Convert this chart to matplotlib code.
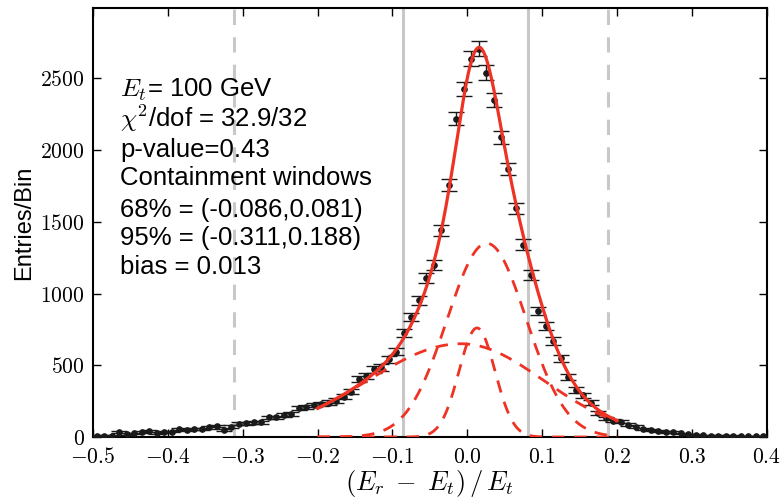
import numpy as np
import matplotlib.pyplot as plt
from matplotlib.ticker import FuncFormatter

plt.rcParams['mathtext.fontset'] = 'cm'
plt.rcParams['font.family'] = ['Liberation Sans', 'DejaVu Sans']

# histogram bin centres (width 0.01) and counts
bin_centers = np.round(np.arange(-0.495, 0.4, 0.01), 3)
counts = [9, 9, 10, 33, 21, 26, 35, 40, 28, 33,
          38, 58, 47, 58, 56, 67, 77, 49, 72, 93,
          95, 102, 102, 137, 137, 153, 160, 200, 207, 222,
          228, 239, 253, 281, 316, 402, 425, 471, 485, 541,
          594, 726, 838, 954, 1110, 1198, 1441, 1755, 2219, 2428,
          2637, 2707, 2540, 2350, 2090, 1868, 1594, 1340, 1128, 877,
          773, 668, 548, 420, 327, 292, 239, 165, 130, 114,
          107, 86, 72, 58, 46, 40, 35, 33, 26, 19,
          14, 12, 10, 9, 8, 8, 7, 6, 6, 6]

# fit components (asymmetric gaussians): amplitude, mean, sigma left, sigma right
comp_amp = [650, 1350, 760]
comp_mean = [-0.008, 0.026, 0.013]
comp_sig_left = [0.125, 0.053, 0.024]
comp_sig_right = [0.11, 0.053, 0.024]
fit_range = (-0.2, 0.2)

win68 = (-0.086, 0.081)
win95 = (-0.311, 0.188)

info_lines = [r'$E_t$= 100 GeV',
              r'$\chi^2$/dof = 32.9/32',
              'p-value=0.43',
              'Containment windows',
              '68% = (-0.086,0.081)',
              '95% = (-0.311,0.188)',
              'bias = 0.013']

red = '#ee3224'
grey = '#c8c8c8'

fig = plt.figure(figsize=(7.84, 5.0), dpi=100)
ax = fig.add_axes([0.1186, 0.126, 0.8594, 0.858])

for w in win68:
    ax.axvline(w, color=grey, lw=2.2, zorder=1)
for w in win95:
    ax.axvline(w, color=grey, lw=2.2, ls=(0, (5, 4)), zorder=1)

errs = np.sqrt(np.array(counts, dtype=float))
ax.errorbar(bin_centers, counts, yerr=errs, fmt='o', color='#1a1a1a', ms=3.8,
            elinewidth=1.0, capsize=5.5, capthick=1.0, zorder=3)

xf = np.linspace(fit_range[0], fit_range[1], 400)
total = np.zeros_like(xf)
for a, m, sl, sr in zip(comp_amp, comp_mean, comp_sig_left, comp_sig_right):
    s = np.where(xf < m, sl, sr)
    g = a * np.exp(-0.5 * ((xf - m) / s) ** 2)
    total += g
    ax.plot(xf, g, color=red, lw=2.0, ls=(0, (4.5, 3.5)), zorder=4)
ax.plot(xf, total, color=red, lw=2.3, zorder=5)

ax.set_xlim(-0.5, 0.4)
ax.set_ylim(0, 2990)
ax.set_xticks(np.arange(-0.5, 0.41, 0.1))
ax.set_yticks(np.arange(0, 2501, 500))
ax.xaxis.set_major_formatter(FuncFormatter(lambda v, p: '$%.1f$' % (0.0 if abs(v) < 1e-9 else v)))
ax.yaxis.set_major_formatter(FuncFormatter(lambda v, p: '$%d$' % v))
ax.tick_params(direction='in', length=6, width=1, top=True, right=True,
               labelsize=15.5)
ax.tick_params(axis='x', pad=7)
ax.tick_params(axis='y', pad=6)
for sp in ax.spines.values():
    sp.set_linewidth(1.5)

ax.set_xlabel(r'$(E_r\;-\;E_t)\,/\,E_t$', fontsize=19, labelpad=0)
ax.set_ylabel('Entries/Bin', fontsize=17)

ypix = [90, 118, 150, 178, 210, 238, 267]
for line, yp in zip(info_lines, ypix):
    ax.text(0.04, (437 - yp) / 429, line, transform=ax.transAxes,
            fontsize=18.5, va='center', ha='left')

plt.savefig('out.png', dpi=100)
